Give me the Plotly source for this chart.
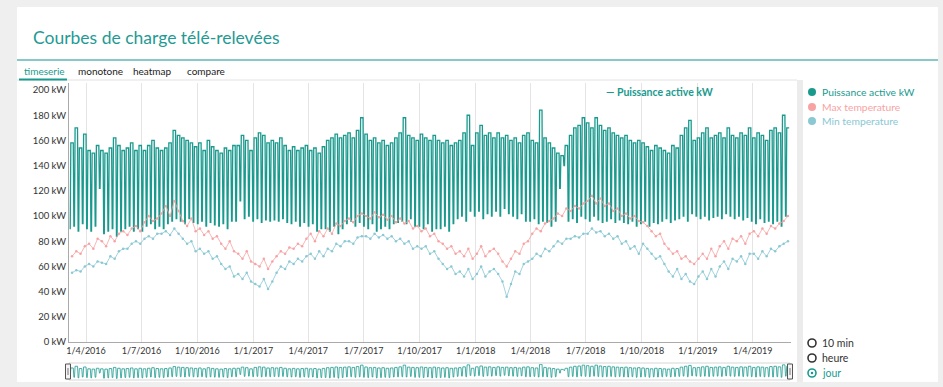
import plotly.graph_objects as go
import pandas as pd

# ---------------- data ----------------
START = "2016-03-05"  # first Saturday; each week = Sat, Sun (weekend) + Mon..Fri (weekdays)

power_weekday = [
    158, 170, 154, 165,  152, 150, 156, 152,  150, 154, 162, 156, 152,
    154, 158, 152, 156,  152, 156, 160, 154,  152, 154, 158, 168, 164,
    162, 160, 158, 155,  158, 152, 160, 155, 152,  150, 154, 152, 156,
    156, 164, 160, 152,
    162, 166, 164, 158, 160,  158, 162, 156, 152,  155, 152, 154, 156,
    152, 154, 150, 155,  160, 162, 165, 162, 164,  166, 162, 168, 178,
    165, 160, 162, 158, 160,  156, 158, 162, 166,  178, 164, 162, 160,
    165, 162, 160, 164, 160,  158, 160, 156, 158,  160, 166, 180, 156,
    166, 172, 164, 166, 162,  166, 162, 164, 160,  162, 158, 164, 166,
    160, 158, 184, 162, 158,  154, 150, 148, 156,  164, 170, 172, 178,
    174, 170, 178, 172, 168,  170, 166, 164, 162,  164, 160, 158, 160,
    158, 155, 152, 156, 154,  152, 150, 156, 154,  164, 170, 176, 160, 162,
    166, 170, 162, 164,  166, 162, 170, 164,  162, 166, 164, 170,
    162, 166, 164, 160, 168,  170, 166, 180, 170,
]

power_weekend = [
    90, 92, 88, 94,  90, 88, 92, 122,  86, 88, 90, 84, 88,
    90, 92, 88, 90,  88, 92, 94, 90,  92, 90, 94, 96, 98,
    96, 94, 98, 95,  94, 96, 92, 95, 93,  92, 94, 90, 96,
    96, 112, 98, 100,
    96, 98, 95, 97, 96,  97, 96, 98, 95,  94, 96, 92, 95,
    92, 94, 88, 90,  90, 88, 92, 86, 90,  94, 96, 92, 95,
    92, 90, 94, 88, 90,  92, 90, 94, 95,  96, 94, 98, 92,
    92, 90, 94, 88, 90,  90, 92, 88, 94,  98, 100, 96, 104,
    100, 104, 98, 102, 100,  104, 100, 106, 102,  100, 98, 102, 96,
    96, 98, 94, 96, 95,  92, 96, 122, 140,  96, 98, 95, 100,
    98, 96, 100, 97, 95,  96, 98, 95, 97,  95, 94, 96, 92,
    94, 96, 92, 95, 94,  96, 98, 95, 97,  98, 100, 96, 102, 100,
    98, 100, 97, 99,  100, 98, 102, 100,  98, 100, 97, 99,
    96, 94, 98, 95, 96,  94, 96, 92, 100,
]

temp_max = [
    68, 72, 70, 76,  78, 74, 82, 80,  76, 84, 80, 86, 88,
    85, 90, 92, 88,  95, 100, 96, 98,  102, 108, 100, 112, 104,
    96, 92, 98, 88,  90, 85, 88, 82, 84,  78, 74, 80, 72,
    70, 66, 72, 64,
    62, 60, 66, 58, 64,  68, 72, 70, 75,  74, 78, 76, 82,
    86, 80, 88, 84,  90, 86, 94, 92, 96,  98, 95, 100, 102,
    100, 98, 103, 99, 101,  97, 100, 95, 98,  94, 96, 90, 92,
    88, 90, 84, 86, 80,  78, 74, 76, 70,  72, 68, 74, 66,
    70, 76, 68, 72, 74,  70, 64, 60, 66,  72, 70, 78, 80,
    86, 90, 88, 94, 96,  98, 102, 100, 106,  104, 108, 106, 110,
    112, 116, 110, 114, 108,  110, 104, 106, 100,  102, 98, 100, 96,
    95, 92, 88, 84, 86,  78, 74, 70, 72,  66, 68, 64, 62, 66,
    70, 66, 74, 68,  76, 80, 74, 82,  80, 84, 78, 86,
    88, 84, 90, 86, 92,  90, 94, 96, 100,
]

temp_min = [
    55, 57, 56, 60,  62, 60, 64, 63,  62, 68, 66, 72, 74,
    74, 78, 80, 78,  82, 84, 82, 86,  86, 88, 85, 90, 86,
    82, 78, 80, 72,  74, 70, 72, 66, 68,  62, 58, 60, 52,
    54, 50, 55, 48,
    46, 44, 50, 42, 48,  55, 60, 58, 64,  62, 66, 64, 68,
    70, 66, 72, 68,  74, 72, 78, 76, 80,  80, 78, 83, 84,
    84, 82, 86, 83, 85,  82, 84, 80, 82,  78, 80, 74, 76,
    74, 76, 70, 72, 66,  62, 58, 60, 54,  56, 52, 58, 50,
    54, 60, 52, 56, 58,  54, 48, 36, 46,  56, 54, 62, 64,
    66, 70, 68, 74, 72,  76, 80, 78, 82,  82, 84, 83, 86,
    86, 90, 87, 88, 84,  86, 82, 84, 78,  80, 74, 76, 70,
    78, 74, 70, 66, 68,  62, 56, 52, 58,  50, 54, 48, 46, 52,
    56, 50, 58, 52,  60, 64, 58, 66,  64, 68, 62, 70,
    70, 66, 72, 68, 74,  72, 76, 78, 80,
]

X_RANGE = ["2016-03-04", "2019-06-03"]
Y_TICKS = [0, 20, 40, 60, 80, 100, 120, 140, 160, 180, 200]
TABS = ["timeserie", "monotone", "heatmap", "compare"]
LEGEND_ITEMS = ["Puissance active kW", "Max temperature", "Min temperature"]
RADIO_ITEMS = ["10 min", "heure", "jour"]
TITLE = "Courbes de charge télé-relevées"

# ---------------- build series ----------------
week_starts = pd.date_range(START, periods=len(power_weekday), freq="7D")
days, power = [], []
for ws, hi, lo in zip(week_starts, power_weekday, power_weekend):
    for k in range(7):
        days.append(ws + pd.Timedelta(days=k))
        power.append(lo if k < 2 else hi)
temp_days = [ws + pd.Timedelta(days=4) for ws in week_starts]

TEAL = "#1a9a8e"
PINK = "#f7a3a3"
BLUE = "#8ac8d4"
FONT = "Lato"

# ---------------- geometry helpers (pixel -> paper) ----------------
W, H = 943, 387
PL, PR, PT, PB = 69, 791, 83, 381      # whole plotting region (main chart + mini navigator)
MAIN_BOTTOM = 342
NAV_TOP, NAV_BOTTOM = 364, 379


def fx(x):
    return (x - PL) / (PR - PL)


def fy(y):
    return (PB - y) / (PB - PT)


fig = go.Figure()
fig.add_trace(go.Scatter(x=days, y=power, mode="lines", name=LEGEND_ITEMS[0],
                         line=dict(color=TEAL, width=1.3), xaxis="x", yaxis="y"))
fig.add_trace(go.Scatter(x=temp_days, y=temp_max, mode="lines+markers", name=LEGEND_ITEMS[1],
                         line=dict(color=PINK, width=0.8), marker=dict(size=2.5, color=PINK),
                         xaxis="x", yaxis="y"))
fig.add_trace(go.Scatter(x=temp_days, y=temp_min, mode="lines+markers", name=LEGEND_ITEMS[2],
                         line=dict(color=BLUE, width=0.8), marker=dict(size=2.5, color=BLUE),
                         xaxis="x", yaxis="y"))
# mini navigator line
fig.add_trace(go.Scatter(x=days, y=power, mode="lines", name=LEGEND_ITEMS[0],
                         line=dict(color=TEAL, width=0.8), xaxis="x2", yaxis="y2"))

shapes = []
annotations = []
# page card
shapes.append(dict(type="rect", xref="paper", yref="paper", x0=fx(17), x1=fx(938), y0=fy(382), y1=fy(7),
                   fillcolor="white", line=dict(width=0), layer="below"))
# title underline
shapes.append(dict(type="line", xref="paper", yref="paper", x0=fx(17), x1=fx(938), y0=fy(60), y1=fy(60),
                   line=dict(color="#86c9c6", width=2)))
# tab panel top line
shapes.append(dict(type="line", xref="paper", yref="paper", x0=fx(17), x1=fx(797), y0=fy(80), y1=fy(80),
                   line=dict(color="#e2e2e2", width=1)))
# active tab underline
shapes.append(dict(type="line", xref="paper", yref="paper", x0=fx(19), x1=fx(67), y0=fy(79.5), y1=fy(79.5),
                   line=dict(color=TEAL, width=2)))
# separator band between chart and legend panel
shapes.append(dict(type="rect", xref="paper", yref="paper", x0=fx(797), x1=fx(803), y0=fy(382), y1=fy(80),
                   fillcolor="#ececec", line=dict(width=0)))
# navigator frame
shapes.append(dict(type="rect", xref="paper", yref="paper", x0=fx(69), x1=fx(790), y0=fy(NAV_BOTTOM + 1),
                   y1=fy(NAV_TOP - 1), fillcolor="rgba(0,0,0,0)", line=dict(color="#d6d6d6", width=1)))
# navigator handles
for hx in (68, 790):
    shapes.append(dict(type="rect", xref="paper", yref="paper", x0=fx(hx - 2.5), x1=fx(hx + 2.5),
                       y0=fy(NAV_BOTTOM), y1=fy(NAV_TOP), fillcolor="#f4f4f4",
                       line=dict(color="#555", width=1)))
    shapes.append(dict(type="line", xref="paper", yref="paper", x0=fx(hx), x1=fx(hx),
                       y0=fy(NAV_BOTTOM - 4), y1=fy(NAV_TOP + 4), line=dict(color="#777", width=1)))

annotations.append(dict(text=TITLE, xref="paper", yref="paper", x=fx(31), y=fy(38), xanchor="left",
                        yanchor="middle", showarrow=False, font=dict(family=FONT, size=17.5, color="#1f9a94")))
tab_x = [22, 76, 131, 185]
for t, x in zip(TABS, tab_x):
    annotations.append(dict(text=t, xref="paper", yref="paper", x=fx(x), y=fy(71), xanchor="left",
                            yanchor="middle", showarrow=False,
                            font=dict(family=FONT, size=10, color=TEAL if t == "timeserie" else "#222")))

# in-plot legend label
annotations.append(dict(text="<b>— " + LEGEND_ITEMS[0] + "</b>", xref="paper", yref="paper", x=fx(604), y=fy(92),
                        xanchor="left", yanchor="middle", showarrow=False,
                        font=dict(family=FONT, size=10.5, color=TEAL)))

# right legend
for name, col, yy in zip(LEGEND_ITEMS, [TEAL, PINK, BLUE], [92, 107, 121]):
    shapes.append(dict(type="circle", xref="paper", yref="paper", x0=fx(808), x1=fx(816), y0=fy(yy + 4),
                       y1=fy(yy - 4), fillcolor=col, line=dict(width=0)))
    annotations.append(dict(text=name, xref="paper", yref="paper", x=fx(820), y=fy(yy), xanchor="left",
                            yanchor="middle", showarrow=False,
                            font=dict(family=FONT, size=10.3, color=col)))

# radio buttons
for name, yy in zip(RADIO_ITEMS, [343, 358, 373]):
    active = name == "jour"
    col = TEAL if active else "#333"
    shapes.append(dict(type="circle", xref="paper", yref="paper", x0=fx(808), x1=fx(816), y0=fy(yy + 4),
                       y1=fy(yy - 4), fillcolor="white", line=dict(color=col, width=1.6)))
    if active:
        shapes.append(dict(type="circle", xref="paper", yref="paper", x0=fx(810.7), x1=fx(813.3),
                           y0=fy(yy + 1.3), y1=fy(yy - 1.3), fillcolor=col, line=dict(width=0)))
    annotations.append(dict(text=name, xref="paper", yref="paper", x=fx(820), y=fy(yy), xanchor="left",
                            yanchor="middle", showarrow=False,
                            font=dict(family=FONT, size=10.5, color=col)))

main_dom = [fy(MAIN_BOTTOM), 1]
nav_dom = [fy(NAV_BOTTOM), fy(NAV_TOP)]

fig.update_layout(
    width=W, height=H,
    margin=dict(l=PL, r=W - PR, t=PT, b=H - PB, autoexpand=False),
    paper_bgcolor="#efefef",
    plot_bgcolor="white",
    showlegend=False,
    hovermode=False,
    font=dict(family=FONT, size=10, color="#333"),
    shapes=shapes,
    annotations=annotations,
    xaxis=dict(
        range=X_RANGE, type="date", tickformat="%-d/%-m/%Y", dtick="M3", tick0="2016-01-01",
        showgrid=True, gridcolor="#e4e4e4", gridwidth=1, showline=True, linecolor="#aaaaaa",
        ticks="", zeroline=False, tickfont=dict(family=FONT, size=9, color="#333"),
        anchor="y",
    ),
    yaxis=dict(
        domain=main_dom, range=[0, 205.6], tickvals=Y_TICKS, ticktext=[f"{v} kW" for v in Y_TICKS],
        showgrid=False, showline=True, linecolor="#aaaaaa", zeroline=False, ticks="",
        tickfont=dict(family=FONT, size=9.5, color="#333"), anchor="x",
    ),
    xaxis2=dict(range=X_RANGE, type="date", anchor="y2", visible=False, showgrid=False),
    yaxis2=dict(domain=nav_dom, range=[80, 186], anchor="x2", visible=False, showgrid=False),
)

fig.write_html("out.html", config={"displayModeBar": False},
               post_script="document.body.style.margin='0px';")
